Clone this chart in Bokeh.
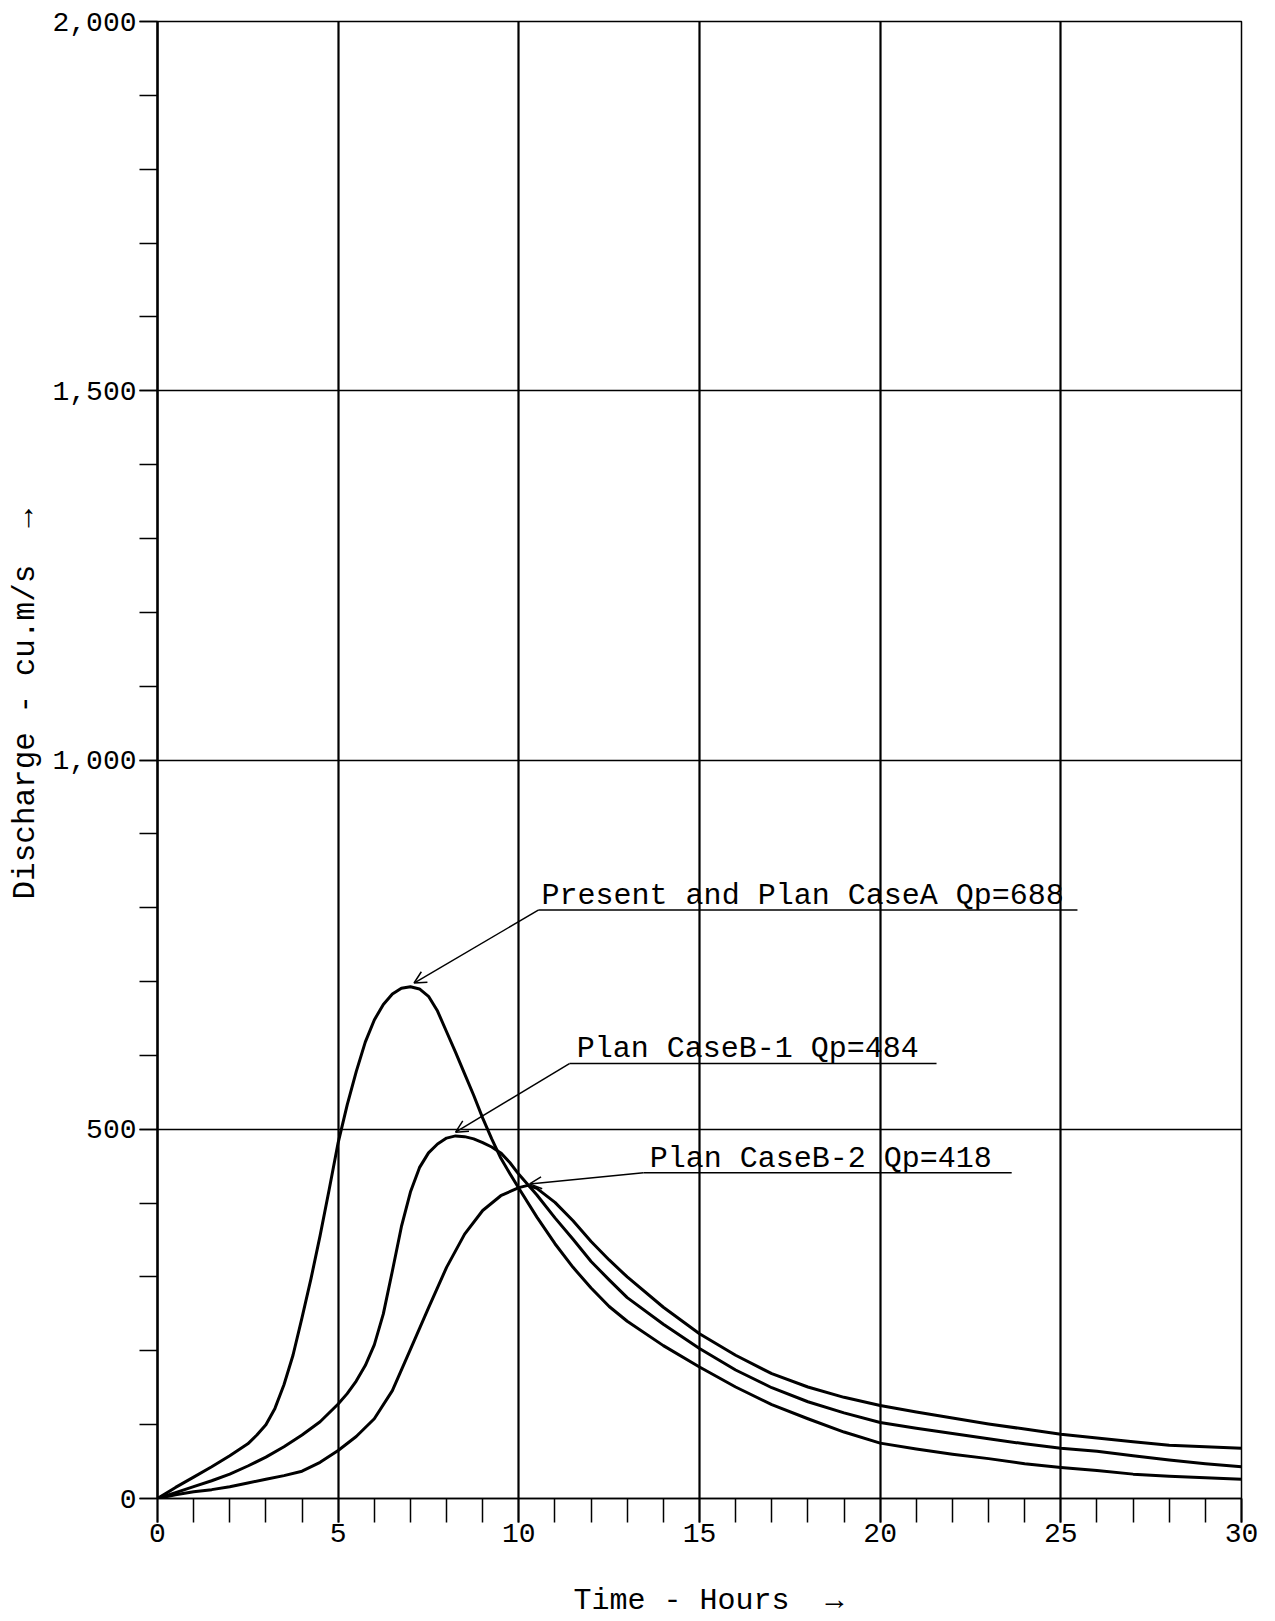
from bokeh.plotting import figure
from bokeh.models import FixedTicker, Label, Arrow, OpenHead
from bokeh.embed import file_html
from bokeh.resources import INLINE

# ---------------- data ----------------
hours_a = [0, 0.5, 1, 1.5, 2, 2.5, 2.75, 3, 3.25, 3.5, 3.75, 4, 4.25, 4.5, 4.75, 5, 5.25, 5.5,
           5.75, 6, 6.25, 6.5, 6.75, 7, 7.25, 7.5, 7.75, 8, 8.25, 8.5, 8.75, 9, 9.25, 9.5, 9.75,
           10, 10.5, 11, 11.5, 12, 12.5, 13, 14, 15, 16, 17, 18, 19, 20, 21, 22, 23, 24, 25, 26,
           27, 28, 29, 30]
flow_a = [0, 15, 29, 43, 58, 74, 86, 100, 122, 154, 194, 245, 298, 356, 418, 482, 533, 578,
          618, 648, 669, 683, 691, 693, 690, 680, 660, 632, 604, 575, 546, 515, 487, 461, 440,
          420, 381, 345, 313, 285, 260, 240, 207, 178, 151, 127, 108, 90, 75, 67, 60, 54, 47, 42,
          38, 33, 30, 28, 26]

hours_b1 = [0, 0.5, 1, 1.5, 2, 2.5, 3, 3.5, 4, 4.5, 5, 5.25, 5.5, 5.75, 6, 6.25, 6.5, 6.75, 7,
            7.25, 7.5, 7.75, 8, 8.25, 8.5, 8.75, 9, 9.25, 9.5, 9.75, 10, 10.5, 11, 11.5, 12, 12.5,
            13, 14, 15, 16, 17, 18, 19, 20, 21, 22, 23, 24, 25, 26, 27, 28, 29, 30]
flow_b1 = [0, 8, 16, 24, 33, 44, 56, 70, 86, 104, 128, 142, 159, 180, 208, 250, 308, 368, 415,
           448, 468, 480, 488, 491, 490, 487, 482, 476, 468, 455, 439, 411, 380, 351, 321, 296,
           272, 236, 203, 174, 150, 131, 116, 103, 95, 88, 81, 74, 68, 64, 58, 52, 47, 43]

hours_b2 = [0, 0.5, 1, 1.5, 2, 2.5, 3, 3.5, 4, 4.5, 5, 5.5, 6, 6.5, 7, 7.5, 8, 8.5, 9, 9.5, 10,
            10.25, 10.5, 11, 11.5, 12, 12.5, 13, 14, 15, 16, 17, 18, 19, 20, 21, 22, 23, 24, 25,
            26, 27, 28, 29, 30]
flow_b2 = [0, 5, 9, 12, 16, 21, 26, 31, 37, 49, 65, 84, 108, 146, 202, 258, 313, 358, 390, 410,
           421, 424, 420, 401, 376, 348, 323, 300, 259, 223, 194, 169, 151, 137, 126, 117, 109,
           101, 94, 87, 82, 77, 72, 70, 68]

x_major = [0, 5, 10, 15, 20, 25, 30]
x_minor = list(range(0, 31))
y_major = [0, 500, 1000, 1500, 2000]
y_minor = list(range(0, 2001, 100))
y_labels = {0: "0", 500: "500", 1000: "1,000", 1500: "1,500", 2000: "2,000"}

# annotations: text, text anchor (x, y), underline, arrow tip (x, y)
ann_text = ["Present and Plan CaseA Qp=688", "Plan CaseB-1 Qp=484", "Plan CaseB-2 Qp=418"]
ann_x = [10.63, 11.60, 13.62]
ann_y = [816, 608, 460]
ann_line_x0 = [10.55, 11.40, 13.45]
ann_line_x1 = [25.46, 21.56, 23.64]
ann_line_y = [797, 589, 441]
ann_tip_x = [7.10, 8.25, 10.30]
ann_tip_y = [698, 496, 426]

FONT = "Liberation Mono"
NB = "\u00a0"

p = figure(width=1270, height=1620, x_range=(0, 30), y_range=(0, 2000),
           output_backend="svg", toolbar_location=None)
p.min_border_left = 157
p.min_border_right = 29
p.min_border_top = 21
p.min_border_bottom = 122
p.background_fill_color = "white"
p.border_fill_color = "white"
p.outline_line_color = "black"
p.outline_line_width = 1.5

# grids
p.xgrid.ticker = FixedTicker(ticks=[5, 10, 15, 20, 25, 30])
p.xgrid.grid_line_color = "black"
p.xgrid.grid_line_width = 2.2
p.ygrid.ticker = FixedTicker(ticks=[500, 1000, 1500, 2000])
p.ygrid.grid_line_color = "black"
p.ygrid.grid_line_width = 1.3

# x axis
xa = p.xaxis[0]
xa.ticker = FixedTicker(ticks=x_major, minor_ticks=x_minor)
xa.axis_line_color = "black"
xa.axis_line_width = 1.5
xa.major_tick_in = 0
xa.major_tick_out = 24
xa.minor_tick_in = 0
xa.minor_tick_out = 24
xa.major_tick_line_width = 2
xa.minor_tick_line_width = 1.5
xa.major_tick_line_color = "black"
xa.minor_tick_line_color = "black"
xa.major_label_text_font = FONT
xa.major_label_text_font_size = "28px"
xa.major_label_text_color = "black"
xa.major_label_standoff = 1
xa.axis_label = NB + "Time - Hours" + NB + NB + "\u2192"
xa.axis_label_text_font = FONT
xa.axis_label_text_font_size = "30px"
xa.axis_label_text_font_style = "normal"
xa.axis_label_text_color = "black"
xa.axis_label_standoff = 39

# y axis
ya = p.yaxis[0]
ya.ticker = FixedTicker(ticks=y_major, minor_ticks=y_minor)
ya.major_label_overrides = y_labels
ya.axis_line_color = "black"
ya.axis_line_width = 2.5
ya.major_tick_in = 0
ya.major_tick_out = 18
ya.minor_tick_in = 0
ya.minor_tick_out = 18
ya.major_tick_line_width = 1.5
ya.minor_tick_line_width = 1.5
ya.major_tick_line_color = "black"
ya.minor_tick_line_color = "black"
ya.major_label_text_font = FONT
ya.major_label_text_font_size = "28px"
ya.major_label_text_color = "black"
ya.major_label_standoff = 3
ya.axis_label = NB * 6 + "Discharge - cu.m/s" + NB + NB + "\u2192"
ya.axis_label_text_font = FONT
ya.axis_label_text_font_size = "31px"
ya.axis_label_text_font_style = "normal"
ya.axis_label_text_color = "black"
ya.axis_label_standoff = 6

# hydrographs
for xs, ys in [(hours_a, flow_a), (hours_b1, flow_b1), (hours_b2, flow_b2)]:
    p.line(xs, ys, line_color="black", line_width=3, line_join="round")

# annotations
for i in range(len(ann_text)):
    p.add_layout(Label(x=ann_x[i], y=ann_y[i], text=ann_text[i], text_font=FONT,
                       text_font_size="30px", text_color="black",
                       text_align="left", text_baseline="alphabetic"))
    p.segment(x0=[ann_line_x0[i]], y0=[ann_line_y[i]], x1=[ann_line_x1[i]],
              y1=[ann_line_y[i]], line_color="black", line_width=1.5)
    p.add_layout(Arrow(x_start=ann_line_x0[i], y_start=ann_line_y[i],
                       x_end=ann_tip_x[i], y_end=ann_tip_y[i],
                       line_color="black", line_width=1.5,
                       end=OpenHead(size=12, line_color="black", line_width=1.5)))

open("out.html", "w").write(file_html(p, INLINE))
